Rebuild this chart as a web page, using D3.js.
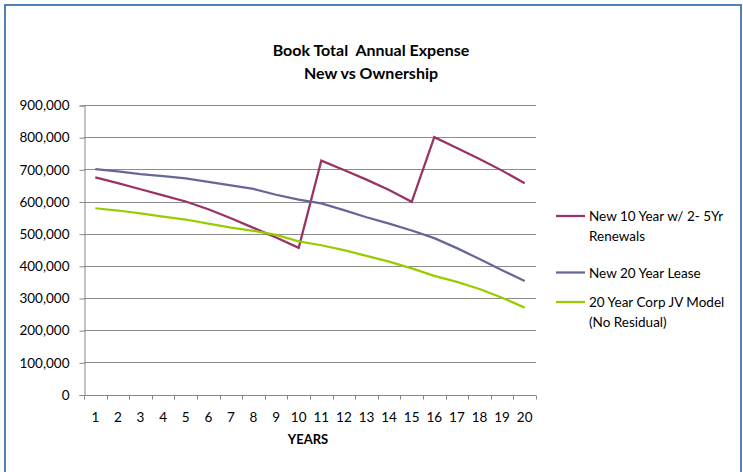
<!DOCTYPE html>
<html>
<head>
<meta charset="utf-8">
<script src="https://cdn.jsdelivr.net/npm/d3@7"></script>
<style>
  html, body { margin: 0; padding: 0; background: #fff; }
  svg { display: block; }
  text { font-family: Lato, "Open Sans", sans-serif; fill: #000; }
</style>
</head>
<body>
<svg id="chart" width="743" height="472"></svg>
<script>
// Years on the category axis
const years = d3.range(1, 21);

// Annual book expense by scenario
const renewals10 = [675000, 657000, 638000, 619000, 600000, 576000, 548000, 518000, 488000, 456000,
                    727000, 698000, 668000, 636000, 599000, 800000, 766000, 732000, 696000, 657000];
const lease20    = [701000, 694000, 685000, 679000, 672000, 661000, 650000, 639000, 621000, 606000,
                    594000, 573000, 551000, 531000, 510000, 486000, 455000, 421000, 386000, 353000];
const corpJV     = [579000, 572000, 563000, 553000, 544000, 531000, 519000, 509000, 496000, 476000,
                    464000, 449000, 431000, 413000, 392000, 369000, 350000, 328000, 301000, 270000];

const seriesNames = [["New 10 Year w/ 2- 5Yr", "Renewals"], ["New 20 Year Lease"], ["20 Year Corp JV Model", "(No Residual)"]];
const seriesColors = ["#993366", "#666699", "#99cc00"];
const yTicks = d3.range(0, 900001, 100000);

const series = [renewals10, lease20, corpJV].map((vals, i) => ({
  name: seriesNames[i], color: seriesColors[i], values: vals.map((v, j) => ({ year: years[j], value: v }))
}));

const svg = d3.select("#chart");
const W = 743, H = 472;

// outer frame
svg.append("rect")
  .attr("x", 5).attr("y", 5).attr("width", W - 7).attr("height", H + 10)
  .attr("fill", "#fff").attr("stroke", "#4f81bd").attr("stroke-width", 2);

const plot = { left: 84, right: 536, top: 105, bottom: 394.5 };

const x = d3.scaleBand().domain(years).range([plot.left, plot.right]).padding(0);
const y = d3.scaleLinear().domain([0, 900000]).range([plot.bottom, plot.top]);

// title (two lines, spacing kept as written)
const title = svg.append("text").attr("x", 371).attr("y", 56)
  .attr("text-anchor", "middle").style("font-weight", "bold").style("font-size", "16px")
  .style("white-space", "pre");
title.append("tspan").attr("x", 371).attr("dy", 0).text("Book Total  Annual Expense");
title.append("tspan").attr("x", 371).attr("dy", 23).text("New vs Ownership");

// horizontal gridlines
svg.append("g").selectAll("line").data(yTicks.filter(d => d > 0)).join("line")
  .attr("x1", plot.left).attr("x2", plot.right)
  .attr("y1", d => Math.round(y(d)) + 0.5).attr("y2", d => Math.round(y(d)) + 0.5)
  .attr("stroke", "#8c8c8c").attr("stroke-width", 1);

// y axis
const yAxis = d3.axisLeft(y).tickValues(yTicks).tickSize(5).tickPadding(10)
  .tickFormat(d3.format(","));
const gy = svg.append("g").attr("transform", `translate(${plot.left + 0.5},0.5)`).call(yAxis);
gy.select(".domain").attr("stroke", "#868686");
gy.selectAll(".tick line").attr("stroke", "#868686");
gy.selectAll(".tick text").style("font-size", "13.5px").style("font-family", "Lato, sans-serif").attr("fill", "#000");

// x axis: ticks on category boundaries, labels centred in categories
const gx = svg.append("g").attr("transform", `translate(0,${Math.round(plot.bottom) + 0.5})`);
gx.append("line").attr("x1", plot.left).attr("x2", plot.right).attr("stroke", "#868686");
const bounds = years.map(d => x(d)).concat([x(years[years.length - 1]) + x.bandwidth()]);
gx.selectAll("line.tk").data(bounds).join("line").attr("class", "tk")
  .attr("x1", d => Math.round(d) + 0.5).attr("x2", d => Math.round(d) + 0.5)
  .attr("y1", 0).attr("y2", 4).attr("stroke", "#868686");
gx.selectAll("text").data(years).join("text")
  .attr("x", d => x(d) + x.bandwidth() / 2).attr("y", 26)
  .attr("text-anchor", "middle").style("font-size", "13.5px").text(d => d);

// x axis title
svg.append("text").attr("x", 308).attr("y", 444).attr("text-anchor", "middle")
  .style("font-weight", "bold").style("font-size", "13px").text("YEARS");

// series lines
const line = d3.line().x(d => x(d.year) + x.bandwidth() / 2).y(d => y(d.value));
svg.append("g").selectAll("path").data(series).join("path")
  .attr("d", d => line(d.values))
  .attr("fill", "none").attr("stroke", d => d.color)
  .attr("stroke-width", 2.25).attr("stroke-linejoin", "miter");

// legend
const legendY = [216, 272.5, 302];
const lg = svg.append("g").selectAll("g").data(series).join("g")
  .attr("transform", (d, i) => `translate(556,${legendY[i]})`);
lg.append("line").attr("x1", 0).attr("x2", 29).attr("y1", 0).attr("y2", 0)
  .attr("stroke", d => d.color).attr("stroke-width", 2.25);
lg.each(function(d) {
  const t = d3.select(this).append("text").attr("x", 33).attr("y", 5).style("font-size", "13.5px");
  d.name.forEach((s, k) => t.append("tspan").attr("x", 33).attr("dy", k === 0 ? 0 : 19.5).text(s));
});
</script>
</body>
</html>
